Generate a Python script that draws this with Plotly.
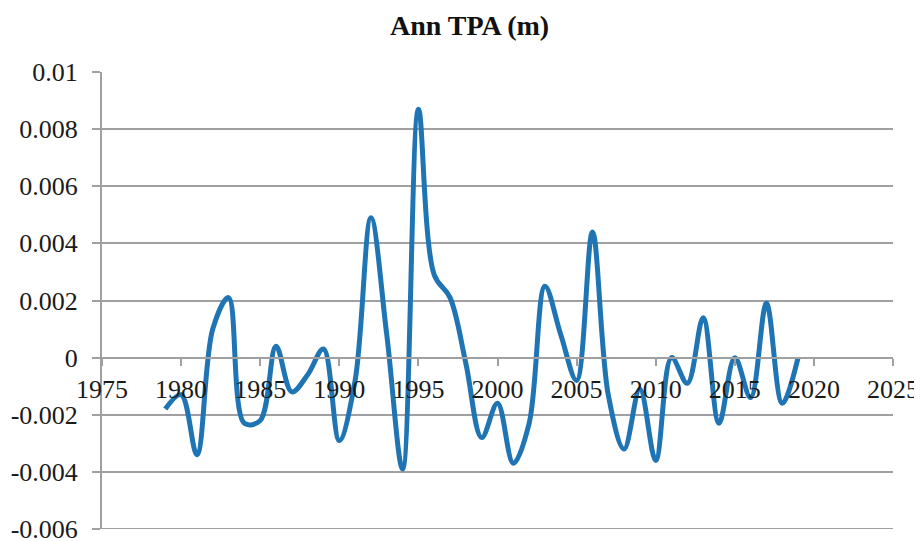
import plotly.graph_objects as go

years = list(range(1979, 2020))
tpa = [-0.0018, -0.0013, -0.0034, 0.0010, 0.0021, -0.0023, -0.0022, 0.0004, -0.0012, -0.0006,
       0.0003, -0.0029, -0.0008, 0.0049, 0.0008, -0.0039, 0.0087, 0.0029, 0.0021, -0.0002,
       -0.0028, -0.0016, -0.0037, -0.0023, 0.0025, 0.0008, -0.0008, 0.0044, -0.0013, -0.0032,
       -0.0011, -0.0036, 0.0000, -0.0009, 0.0014, -0.0023, 0.0000, -0.0014, 0.0019, -0.0016,
       0.0000]

x_ticks = [1975, 1980, 1985, 1990, 1995, 2000, 2005, 2010, 2015, 2020, 2025]
y_ticks = [0.01, 0.008, 0.006, 0.004, 0.002, 0, -0.002, -0.004, -0.006]
y_ticktext = ["0.01", "0.008", "0.006", "0.004", "0.002", "0", "-0.002", "-0.004", "-0.006"]

grid = "#A0A0A2"
font = "Liberation Serif"

fig = go.Figure()
fig.add_trace(go.Scatter(
    x=years, y=tpa, mode="lines",
    line=dict(color="#1F74B4", width=5, shape="spline", smoothing=1),
    showlegend=False, hoverinfo="x+y",
))

ymin, ymax = -0.006, 0.01
# bottom gridline (plotly drops the grid line at the axis edge)
fig.add_shape(type="line", xref="paper", yref="y", x0=0, x1=1, y0=ymin, y1=ymin,
              line=dict(color=grid, width=2), layer="below")

fig.update_layout(
    width=914, height=533,
    margin=dict(l=93.5, r=28.5, t=64, b=11.5, autoexpand=False),
    paper_bgcolor="white", plot_bgcolor="white",
    title=dict(text="<b>Ann TPA (m)</b>", x=0.505, xanchor="center", y=0.968, yanchor="middle",
               font=dict(family=font, size=28, color="#111")),
    font=dict(family=font, size=26, color="#1a1a1a"),
    xaxis=dict(
        range=[1975, 2025], tickvals=x_ticks, ticktext=[str(v) for v in x_ticks],
        anchor="free", position=(0 - ymin) / (ymax - ymin),
        showline=True, linecolor=grid, linewidth=2,
        ticks="outside", ticklen=7, tickwidth=2, tickcolor=grid,
        showgrid=False, zeroline=False, automargin=False,
        tickfont=dict(family=font, size=26, color="#1a1a1a"),
        ticklabelstandoff=1, ticklabeloverflow="allow",
    ),
    yaxis=dict(
        range=[ymin, ymax], tickvals=y_ticks, ticktext=y_ticktext,
        showline=True, linecolor=grid, linewidth=2,
        ticks="outside", ticklen=8, tickwidth=2, tickcolor=grid,
        showgrid=True, gridcolor=grid, gridwidth=2, zeroline=False, automargin=False,
        tickfont=dict(family=font, size=26, color="#1a1a1a"),
        ticklabelstandoff=9, ticklabeloverflow="allow",
    ),
)

fig.write_html("out.html")
